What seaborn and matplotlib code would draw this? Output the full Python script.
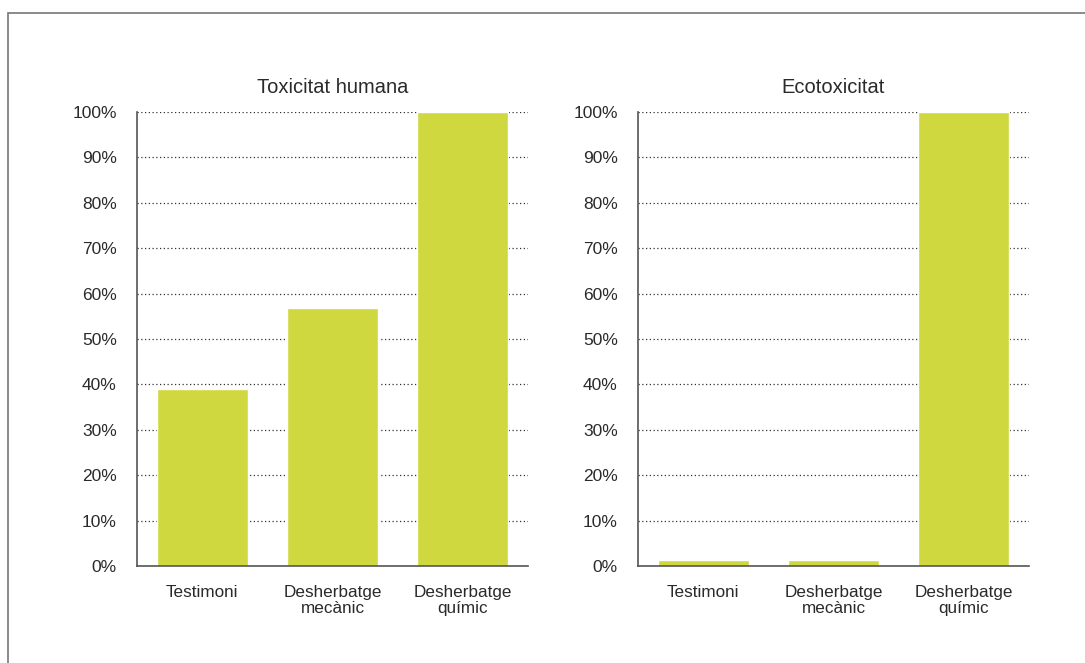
import matplotlib
matplotlib.use("Agg")
import matplotlib.pyplot as plt
import seaborn as sns
import pandas as pd
from matplotlib.patches import Rectangle
from matplotlib.ticker import PercentFormatter

categories = ["Testimoni", "Desherbatge\nmecànic", "Desherbatge\nquímic"]
human_tox = [39.0, 56.8, 100.0]
eco_tox = [1.3, 1.3, 100.0]
titles = ["Toxicitat humana", "Ecotoxicitat"]
yticks = [0, 10, 20, 30, 40, 50, 60, 70, 80, 90, 100]

sns.set_theme(style="white")
plt.rcParams['font.family'] = ['Liberation Sans', 'DejaVu Sans']

bar_color = "#CFD83F"
text_color = "#2a2a2a"

fig = plt.figure(figsize=(10.85, 6.63), dpi=100)
fig.patch.set_facecolor("white")

# outer frame (clipped on right and bottom)
W, H = 1085, 663
fig.patches.append(Rectangle((8 / W, -0.05), 1.2, (H - 13) / H + 0.05,
                             transform=fig.transFigure, fill=False,
                             edgecolor="#777777", linewidth=1.2))

positions = [(137 / W, 1 - 566 / H, 391 / W, 454 / H),
             (638 / W, 1 - 566 / H, 391 / W, 454 / H)]

for pos, vals, title in zip(positions, [human_tox, eco_tox], titles):
    ax = fig.add_axes(pos)
    df = pd.DataFrame({"cat": categories, "val": vals})
    sns.barplot(data=df, x="cat", y="val", color=bar_color, saturation=1,
                width=0.7, ax=ax, zorder=3)
    ax.set_ylim(0, 100)
    ax.set_xlim(-0.5, 2.5)
    ax.set_yticks(yticks)
    ax.yaxis.set_major_formatter(PercentFormatter(decimals=0))
    ax.set_xlabel("")
    ax.set_ylabel("")
    ax.yaxis.grid(True, linestyle=(0, (1, 2)), color="#333333", linewidth=0.9, zorder=0)
    ax.xaxis.grid(False)
    for s in ["top", "right"]:
        ax.spines[s].set_visible(False)
    for s in ["left", "bottom"]:
        ax.spines[s].set_color("#555555")
        ax.spines[s].set_linewidth(1.2)
        ax.spines[s].set_zorder(4)
    ax.tick_params(axis="y", length=0, pad=14.5, labelsize=12.5, labelcolor=text_color)
    ax.tick_params(axis="x", length=0, pad=14, labelsize=12.3, labelcolor=text_color)
    for lab in ax.get_xticklabels():
        lab.set_linespacing(1.08)
    ax.set_title(title, fontsize=14.5, color=text_color, pad=14)

fig.savefig("out.png", dpi=100, facecolor="white")
